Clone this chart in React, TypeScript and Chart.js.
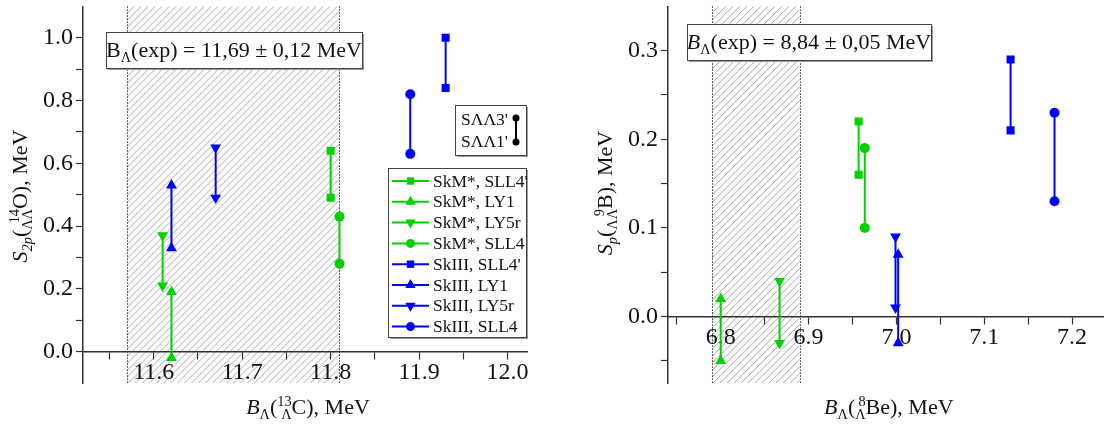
import React, { useEffect, useRef } from 'react';
import { Chart, registerables } from 'chart.js';

Chart.register(...registerables);

const FONT = '"Liberation Serif", "Times New Roman", Times, "Nimbus Roman", "DejaVu Serif", serif';
const GREEN = 'rgb(0, 210, 0)';
const BLUE = 'rgb(0, 0, 255)';

// ---- series (shared) ----
const seriesLabels = ["SkM*, SLL4'", 'SkM*, LY1', 'SkM*, LY5r', 'SkM*, SLL4', "SkIII, SLL4'", 'SkIII, LY1', 'SkIII, LY5r', 'SkIII, SLL4'];
const seriesShapes = ['rect', 'triangle', 'triangleDown', 'circle', 'rect', 'triangle', 'triangleDown', 'circle'];
const seriesColors = [GREEN, GREEN, GREEN, GREEN, BLUE, BLUE, BLUE, BLUE];

// ---- left chart: S2p(14ΛΛO) vs BΛ(13ΛC) ----
const leftX = [11.80, 11.62, 11.61, 11.81, 11.93, 11.62, 11.67, 11.89];
const leftS3 = [0.64, 0.19, 0.37, 0.43, 1.00, 0.53, 0.65, 0.82];
const leftS1 = [0.49, -0.02, 0.21, 0.28, 0.84, 0.33, 0.49, 0.63];
const leftExpValue = 11.69;
const leftExpErr = 0.12;
const leftXRange = [11.52, 12.022];
const leftYRange = [-0.1, 1.1];
const leftXTicks = [11.55, 11.6, 11.65, 11.7, 11.75, 11.8, 11.85, 11.9, 11.95, 12.0];
const leftXLabels = [11.6, 11.7, 11.8, 11.9, 12.0];
const leftYTicks = [0, 0.1, 0.2, 0.3, 0.4, 0.5, 0.6, 0.7, 0.8, 0.9, 1.0];
const leftYLabels = [0, 0.2, 0.4, 0.6, 0.8, 1.0];

// ---- right chart: Sp(9ΛΛB) vs BΛ(8ΛBe) ----
const rightX = [6.957, 6.80, 6.867, 6.964, 7.13, 7.002, 6.999, 7.18];
const rightS3 = [0.22, 0.02, 0.04, 0.19, 0.29, 0.07, 0.09, 0.23];
const rightS1 = [0.16, -0.05, -0.03, 0.10, 0.21, -0.03, 0.01, 0.13];
const rightExpValue = 8.84;
const rightExpErr = 0.05;
const rightBand = [6.79, 6.89];
const rightXRange = [6.74, 7.236];
const rightYRange = [-0.075, 0.35];
const rightXTicks = [6.75, 6.8, 6.85, 6.9, 6.95, 7.0, 7.05, 7.1, 7.15, 7.2];
const rightXLabels = [6.8, 6.9, 7.0, 7.1, 7.2];
const rightYTicks = [-0.05, 0, 0.05, 0.1, 0.15, 0.2, 0.25, 0.3];
const rightYLabels = [0, 0.1, 0.2, 0.3];

const pairLabels = ["SΛΛ3'", "SΛΛ1'"];

type Seg = { t?: string; it?: boolean; v?: 'sub' | 'sup'; sup?: string; sub?: string };

const segFont = (size: number, it?: boolean) => `${it ? 'italic ' : ''}${size}px ${FONT}`;

function measureRich(ctx: CanvasRenderingContext2D, segs: Seg[], F: number) {
  let w = 0;
  for (const s of segs) {
    if (s.sup !== undefined || s.sub !== undefined) {
      ctx.font = segFont(F * 0.65);
      w += Math.max(ctx.measureText(s.sup || '').width, ctx.measureText(s.sub || '').width);
    } else {
      ctx.font = segFont(s.v ? F * 0.65 : F, s.it);
      w += ctx.measureText(s.t || '').width;
    }
  }
  return w;
}

function drawRich(ctx: CanvasRenderingContext2D, segs: Seg[], x: number, y: number, F: number, align = 'center') {
  const w = measureRich(ctx, segs, F);
  let cx = align === 'center' ? x - w / 2 : align === 'right' ? x - w : x;
  ctx.textAlign = 'left';
  ctx.textBaseline = 'alphabetic';
  ctx.fillStyle = '#111';
  for (const s of segs) {
    if (s.sup !== undefined || s.sub !== undefined) {
      ctx.font = segFont(F * 0.65);
      const w1 = ctx.measureText(s.sup || '').width;
      const w2 = ctx.measureText(s.sub || '').width;
      const ww = Math.max(w1, w2);
      ctx.fillText(s.sup || '', cx + ww - w1, y - F * 0.36);
      ctx.fillText(s.sub || '', cx + ww - w2, y + F * 0.24);
      cx += ww;
    } else {
      const size = s.v ? F * 0.65 : F;
      ctx.font = segFont(size, s.it);
      const dy = s.v === 'sub' ? F * 0.24 : s.v === 'sup' ? -F * 0.36 : 0;
      ctx.fillText(s.t || '', cx, y + dy);
      cx += ctx.measureText(s.t || '').width;
    }
  }
}

function drawMarker(ctx: CanvasRenderingContext2D, shape: string, x: number, y: number, r: number, color: string) {
  ctx.fillStyle = color;
  ctx.beginPath();
  if (shape === 'rect') {
    const s = r * Math.SQRT1_2;
    ctx.rect(x - s, y - s, 2 * s, 2 * s);
  } else if (shape === 'circle') {
    ctx.arc(x, y, r * 0.8, 0, Math.PI * 2);
  } else {
    const d = shape === 'triangle' ? 1 : -1;
    ctx.moveTo(x, y - d * r);
    ctx.lineTo(x + r * 0.866, y + d * r * 0.5);
    ctx.lineTo(x - r * 0.866, y + d * r * 0.5);
    ctx.closePath();
  }
  ctx.fill();
}

function drawBand(chart: any, x0: number, x1: number) {
  const { ctx, chartArea, scales } = chart;
  const p0 = scales.x.getPixelForValue(x0);
  const p1 = scales.x.getPixelForValue(x1);
  const top = chartArea.top;
  const bottom = chartArea.bottom;
  const h = bottom - top;
  ctx.save();
  ctx.beginPath();
  ctx.rect(p0, top, p1 - p0, h);
  ctx.clip();
  ctx.strokeStyle = '#a8a8a8';
  ctx.lineWidth = 1;
  for (let s = p0 - h; s < p1 + 10; s += 7) {
    ctx.beginPath();
    ctx.moveTo(s, bottom);
    ctx.lineTo(s + h, top);
    ctx.stroke();
  }
  ctx.restore();
  ctx.save();
  ctx.strokeStyle = '#333';
  ctx.lineWidth = 1;
  ctx.setLineDash([1.5, 1.5]);
  for (const p of [p0, p1]) {
    ctx.beginPath();
    ctx.moveTo(Math.round(p) + 0.5, top);
    ctx.lineTo(Math.round(p) + 0.5, bottom);
    ctx.stroke();
  }
  ctx.restore();
}

function drawBox(ctx: CanvasRenderingContext2D, x: number, y: number, w: number, h: number) {
  ctx.save();
  ctx.fillStyle = '#9a9a9a';
  ctx.fillRect(x + 2, y + 2, w, h);
  ctx.fillStyle = '#fff';
  ctx.fillRect(x, y, w, h);
  ctx.strokeStyle = '#444';
  ctx.lineWidth = 1;
  ctx.strokeRect(x + 0.5, y + 0.5, w, h);
  ctx.restore();
}

const fmtComma = (v: number) => v.toFixed(2).replace('.', ',');

function isIn(list: number[], v: number) {
  return list.some((m) => Math.abs(m - v) < 1e-9);
}

function buildDatasets(xs: number[], s3: number[], s1: number[]) {
  return seriesLabels.map((label, i) => {
    const shape = seriesShapes[i];
    return {
      label,
      data: [
        { x: xs[i], y: s3[i] },
        { x: xs[i], y: s1[i] },
      ],
      showLine: true,
      borderColor: seriesColors[i],
      backgroundColor: seriesColors[i],
      borderWidth: 2,
      pointStyle: shape === 'triangleDown' ? 'triangle' : shape,
      pointRotation: shape === 'triangleDown' ? 180 : 0,
      pointRadius: shape === 'rect' ? 5.7 : shape === 'circle' ? 5 : 6.3,
      pointBorderWidth: 0,
    };
  });
}

function makeScales(o: any) {
  const axisCommon = {
    grid: { display: true, drawOnChartArea: false, drawTicks: true, tickLength: 7, tickColor: '#333', tickWidth: 1.2 },
    border: { display: true, color: '#333', width: 1.5 },
  };
  return {
    x: {
      type: 'linear',
      position: { y: 0 },
      min: o.xRange[0],
      max: o.xRange[1],
      ...axisCommon,
      afterBuildTicks: (scale: any) => {
        scale.ticks = o.xTicks.map((v: number) => ({ value: v }));
      },
      afterFit: (scale: any) => {
        scale.paddingLeft = 0;
        scale.paddingRight = 0;
        scale.paddingTop = 0;
        scale.paddingBottom = 0;
      },
      ticks: {
        autoSkip: false,
        maxRotation: 0,
        padding: 0,
        color: '#111',
        font: { family: FONT, size: 24 },
        callback: (v: any) => (isIn(o.xLabels, Number(v)) ? Number(v).toFixed(1) : ''),
      },
    },
    y: {
      type: 'linear',
      position: 'left',
      min: o.yRange[0],
      max: o.yRange[1],
      ...axisCommon,
      afterBuildTicks: (scale: any) => {
        scale.ticks = o.yTicks.map((v: number) => ({ value: v }));
      },
      afterFit: (scale: any) => {
        scale.width = o.yWidth;
        scale.paddingTop = 0;
        scale.paddingBottom = 0;
        scale.paddingLeft = 0;
        scale.paddingRight = 0;
      },
      ticks: {
        autoSkip: false,
        padding: 3,
        color: '#111',
        font: { family: FONT, size: 24 },
        callback: (v: any) => (isIn(o.yLabels, Number(v)) ? Number(v).toFixed(1) : ''),
      },
    },
  };
}

function leftConfig(): any {
  const band = [leftExpValue - leftExpErr, leftExpValue + leftExpErr];
  const plugin = {
    id: 'leftDecor',
    beforeDraw: (chart: any) => drawBand(chart, band[0], band[1]),
    afterDraw: (chart: any) => {
      const { ctx, chartArea } = chart;
      ctx.save();
      // annotation
      drawBox(ctx, 106, 32, 256, 36);
      drawRich(ctx, [{ t: 'B' }, { t: 'Λ', v: 'sub' }, { t: `(exp) = ${fmtComma(leftExpValue)} ± ${fmtComma(leftExpErr)} MeV` }], 234, 57, 22);
      // pair key box
      drawBox(ctx, 455, 105, 71, 50);
      ctx.font = segFont(17.5);
      ctx.fillStyle = '#111';
      ctx.textAlign = 'left';
      ctx.textBaseline = 'middle';
      ctx.fillText(pairLabels[0], 461, 120);
      ctx.fillText(pairLabels[1], 461, 142);
      ctx.strokeStyle = '#000';
      ctx.lineWidth = 2;
      ctx.beginPath();
      ctx.moveTo(516, 118);
      ctx.lineTo(516, 142);
      ctx.stroke();
      drawMarker(ctx, 'circle', 516, 118, 4.4, '#000');
      drawMarker(ctx, 'circle', 516, 142, 4.4, '#000');
      // legend
      drawBox(ctx, 388, 168, 138, 169);
      seriesLabels.forEach((label, i) => {
        const y = 181 + i * 20.8;
        ctx.strokeStyle = seriesColors[i];
        ctx.lineWidth = 2;
        ctx.beginPath();
        ctx.moveTo(392, y);
        ctx.lineTo(429, y);
        ctx.stroke();
        const sh = seriesShapes[i];
        drawMarker(ctx, sh, 410.5, y, sh === 'rect' ? 5.2 : sh === 'circle' ? 5.6 : 6, seriesColors[i]);
        ctx.fillStyle = '#111';
        ctx.font = segFont(17.5);
        ctx.textAlign = 'left';
        ctx.textBaseline = 'middle';
        ctx.fillText(label, 433, y + 1);
      });
      // axis titles
      drawRich(ctx, [{ t: 'B', it: true }, { t: 'Λ', v: 'sub' }, { t: '(' }, { sup: '13', sub: 'Λ' }, { t: 'C), MeV' }], (chartArea.left + chartArea.right) / 2 + 3, 414, 22);
      ctx.translate(27, 196);
      ctx.rotate(-Math.PI / 2);
      drawRich(ctx, [{ t: 'S', it: true }, { t: '2p', it: true, v: 'sub' }, { t: '(' }, { sup: '14', sub: 'ΛΛ' }, { t: 'O), MeV' }], 0, 0, 22);
      ctx.restore();
    },
  };
  return {
    type: 'scatter',
    data: { datasets: buildDatasets(leftX, leftS3, leftS1) },
    options: {
      animation: false,
      responsive: false,
      devicePixelRatio: 1,
      layout: { padding: { left: 0, top: 2, right: 28, bottom: 45 } },
      plugins: { legend: { display: false }, tooltip: { enabled: false } },
      scales: makeScales({ xRange: leftXRange, yRange: leftYRange, xTicks: leftXTicks, xLabels: leftXLabels, yTicks: leftYTicks, yLabels: leftYLabels, yWidth: 83 }),
    },
    plugins: [plugin],
  };
}

function rightConfig(): any {
  const plugin = {
    id: 'rightDecor',
    beforeDraw: (chart: any) => drawBand(chart, rightBand[0], rightBand[1]),
    afterDraw: (chart: any) => {
      const { ctx, chartArea } = chart;
      ctx.save();
      drawBox(ctx, 132, 24, 244, 36);
      drawRich(ctx, [{ t: 'B', it: true }, { t: 'Λ', v: 'sub' }, { t: `(exp) = ${fmtComma(rightExpValue)} ± ${fmtComma(rightExpErr)} MeV` }], 254, 49, 22);
      drawRich(ctx, [{ t: 'B', it: true }, { t: 'Λ', v: 'sub' }, { t: '(' }, { sup: '8', sub: 'Λ' }, { t: 'Be), MeV' }], (chartArea.left + chartArea.right) / 2 + 3, 414, 22);
      ctx.translate(57, 193);
      ctx.rotate(-Math.PI / 2);
      drawRich(ctx, [{ t: 'S', it: true }, { t: 'p', it: true, v: 'sub' }, { t: '(' }, { sup: '9', sub: 'ΛΛ' }, { t: 'B), MeV' }], 0, 0, 22);
      ctx.restore();
    },
  };
  return {
    type: 'scatter',
    data: { datasets: buildDatasets(rightX, rightS3, rightS1) },
    options: {
      animation: false,
      responsive: false,
      devicePixelRatio: 1,
      layout: { padding: { left: 0, top: 2, right: 1, bottom: 45 } },
      plugins: { legend: { display: false }, tooltip: { enabled: false } },
      scales: makeScales({ xRange: rightXRange, yRange: rightYRange, xTicks: rightXTicks, xLabels: rightXLabels, yTicks: rightYTicks, yLabels: rightYLabels, yWidth: 113 }),
    },
    plugins: [plugin],
  };
}

function ChartCanvas({ make, left }: { make: () => any; left: number }) {
  const ref = useRef<HTMLCanvasElement>(null);
  useEffect(() => {
    let chart: any = null;
    let cancelled = false;
    const create = () => {
      if (cancelled || !ref.current) return;
      chart = new Chart(ref.current, make());
    };
    const fonts = (document as any).fonts;
    if (fonts && fonts.load) {
      Promise.all([
        fonts.load('20px "Liberation Serif"', 'BΛ0.1'),
        fonts.load('italic 20px "Liberation Serif"', 'BS'),
      ]).then(create, create);
    } else {
      create();
    }
    return () => {
      cancelled = true;
      if (chart) chart.destroy();
    };
  }, [make]);
  return (
    <canvas
      ref={ref}
      width={555}
      height={428}
      style={{ position: 'absolute', left, top: 0, width: 555, height: 428 }}
    />
  );
}

export default function App() {
  return (
    <div style={{ position: 'absolute', left: 0, top: 0, width: 1110, height: 428, background: '#fff', overflow: 'hidden', fontFamily: FONT }}>
      <span style={{ position: 'absolute', left: -1000, top: 0, fontFamily: FONT }}>BΛ</span>
      <span style={{ position: 'absolute', left: -1000, top: 0, fontFamily: FONT, fontStyle: 'italic' }}>BS</span>
      <ChartCanvas make={leftConfig} left={0} />
      <ChartCanvas make={rightConfig} left={555} />
    </div>
  );
}
